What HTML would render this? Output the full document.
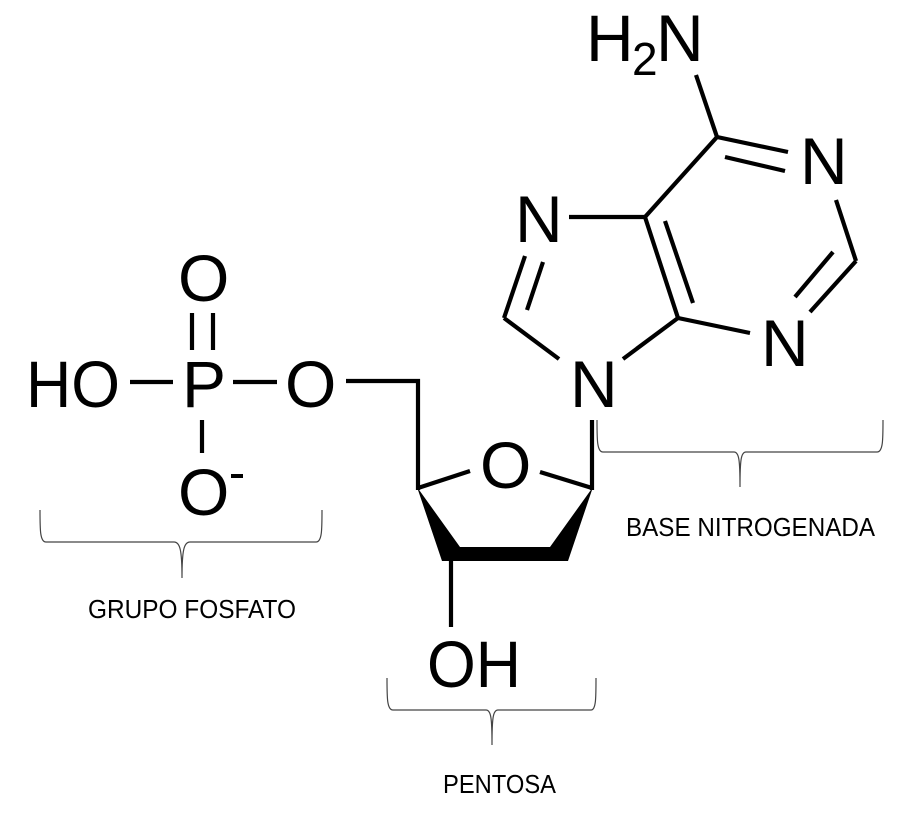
<!DOCTYPE html>
<html><head><meta charset="utf-8"><style>
html,body{margin:0;padding:0;background:#fff;}
svg{display:block}
.c{font-family:"Liberation Sans",Arial,sans-serif;font-size:66px;fill:#000}
.l{font-family:"Liberation Sans",Arial,sans-serif;font-size:26px;fill:#000}
</style></head><body>
<svg width="900" height="817" viewBox="0 0 900 817" xmlns="http://www.w3.org/2000/svg">
<g stroke="#000" stroke-width="4.2" fill="none" stroke-linecap="butt">
<!-- adenine -->
<line x1="696" y1="75" x2="717" y2="137"/>
<line x1="717" y1="137" x2="788" y2="152"/>
<line x1="725" y1="157" x2="785" y2="171"/>
<line x1="836" y1="200" x2="856" y2="261"/>
<line x1="856" y1="261" x2="810" y2="312"/>
<line x1="833" y1="252" x2="795" y2="297"/>
<line x1="750" y1="333" x2="678" y2="318"/>
<line x1="678" y1="318" x2="645" y2="217"/>
<line x1="665" y1="221" x2="693" y2="303"/>
<line x1="645" y1="217" x2="717" y2="137"/>
<line x1="645" y1="217" x2="569" y2="217"/>
<line x1="525" y1="256" x2="504" y2="318"/>
<line x1="543" y1="262" x2="527" y2="310"/>
<line x1="504" y1="318" x2="559" y2="359"/>
<line x1="678" y1="318" x2="623" y2="359"/>
<!-- sugar -->
<line x1="592" y1="420" x2="592" y2="490"/>
<polyline points="346,381 418,381 418,490"/>
<line x1="418" y1="488" x2="470" y2="471"/>
<line x1="540" y1="472" x2="592" y2="488"/>
<line x1="451" y1="558" x2="451" y2="627"/>
<!-- phosphate -->
<line x1="130" y1="382" x2="173" y2="382"/>
<line x1="233" y1="382" x2="277" y2="382"/>
<line x1="192" y1="313" x2="192" y2="350"/>
<line x1="213" y1="313" x2="213" y2="350"/>
<line x1="202" y1="420" x2="202" y2="453"/>
</g>
<polygon points="417,487 460,547 550,547 593,487 568,561 442,561" fill="#000"/>
<!-- atom labels -->
<text class="c" x="586" y="61">H</text>
<text class="c" x="632" y="75" style="font-size:46px">2</text>
<text class="c" x="656" y="61">N</text>
<text class="c" x="800" y="184">N</text>
<text class="c" x="761" y="366">N</text>
<text class="c" x="515" y="242">N</text>
<text class="c" x="570" y="407">N</text>
<text class="c" x="26" y="407" textLength="94" lengthAdjust="spacingAndGlyphs">HO</text>
<text class="c" x="182" y="407">P</text>
<text class="c" x="285" y="407">O</text>
<text class="c" x="178" y="301">O</text>
<text class="c" x="178" y="515">O</text>
<rect x="231" y="474" width="12" height="4" fill="#000"/>
<text class="c" x="480" y="488">O</text>
<text class="c" x="427" y="687" textLength="94" lengthAdjust="spacingAndGlyphs">OH</text>
<!-- braces -->
<g stroke="#444" stroke-width="1.2" fill="none">
<path d="M40,510 C40,530 40,542 46,542 L174,542 C180,542 182,550 182,578 C182,550 184,542 190,542 L316,542 C322,542 322,530 322,510"/>
<path d="M387,678 C387,698 387,710 393,710 L486,710 C491,710 492,718 492,745 C492,718 493,710 498,710 L591,710 C596,710 596,698 596,678"/>
<path d="M597,420 C597,440 597,452 603,452 L734,452 C739,452 740,460 740,487 C740,460 741,452 746,452 L877,452 C883,452 883,440 883,420"/>
</g>
<text class="l" x="88" y="618" textLength="208" lengthAdjust="spacingAndGlyphs">GRUPO FOSFATO</text>
<text class="l" x="443" y="793" textLength="113" lengthAdjust="spacingAndGlyphs">PENTOSA</text>
<text class="l" x="626" y="536" textLength="249" lengthAdjust="spacingAndGlyphs">BASE NITROGENADA</text>
</svg>
</body></html>
